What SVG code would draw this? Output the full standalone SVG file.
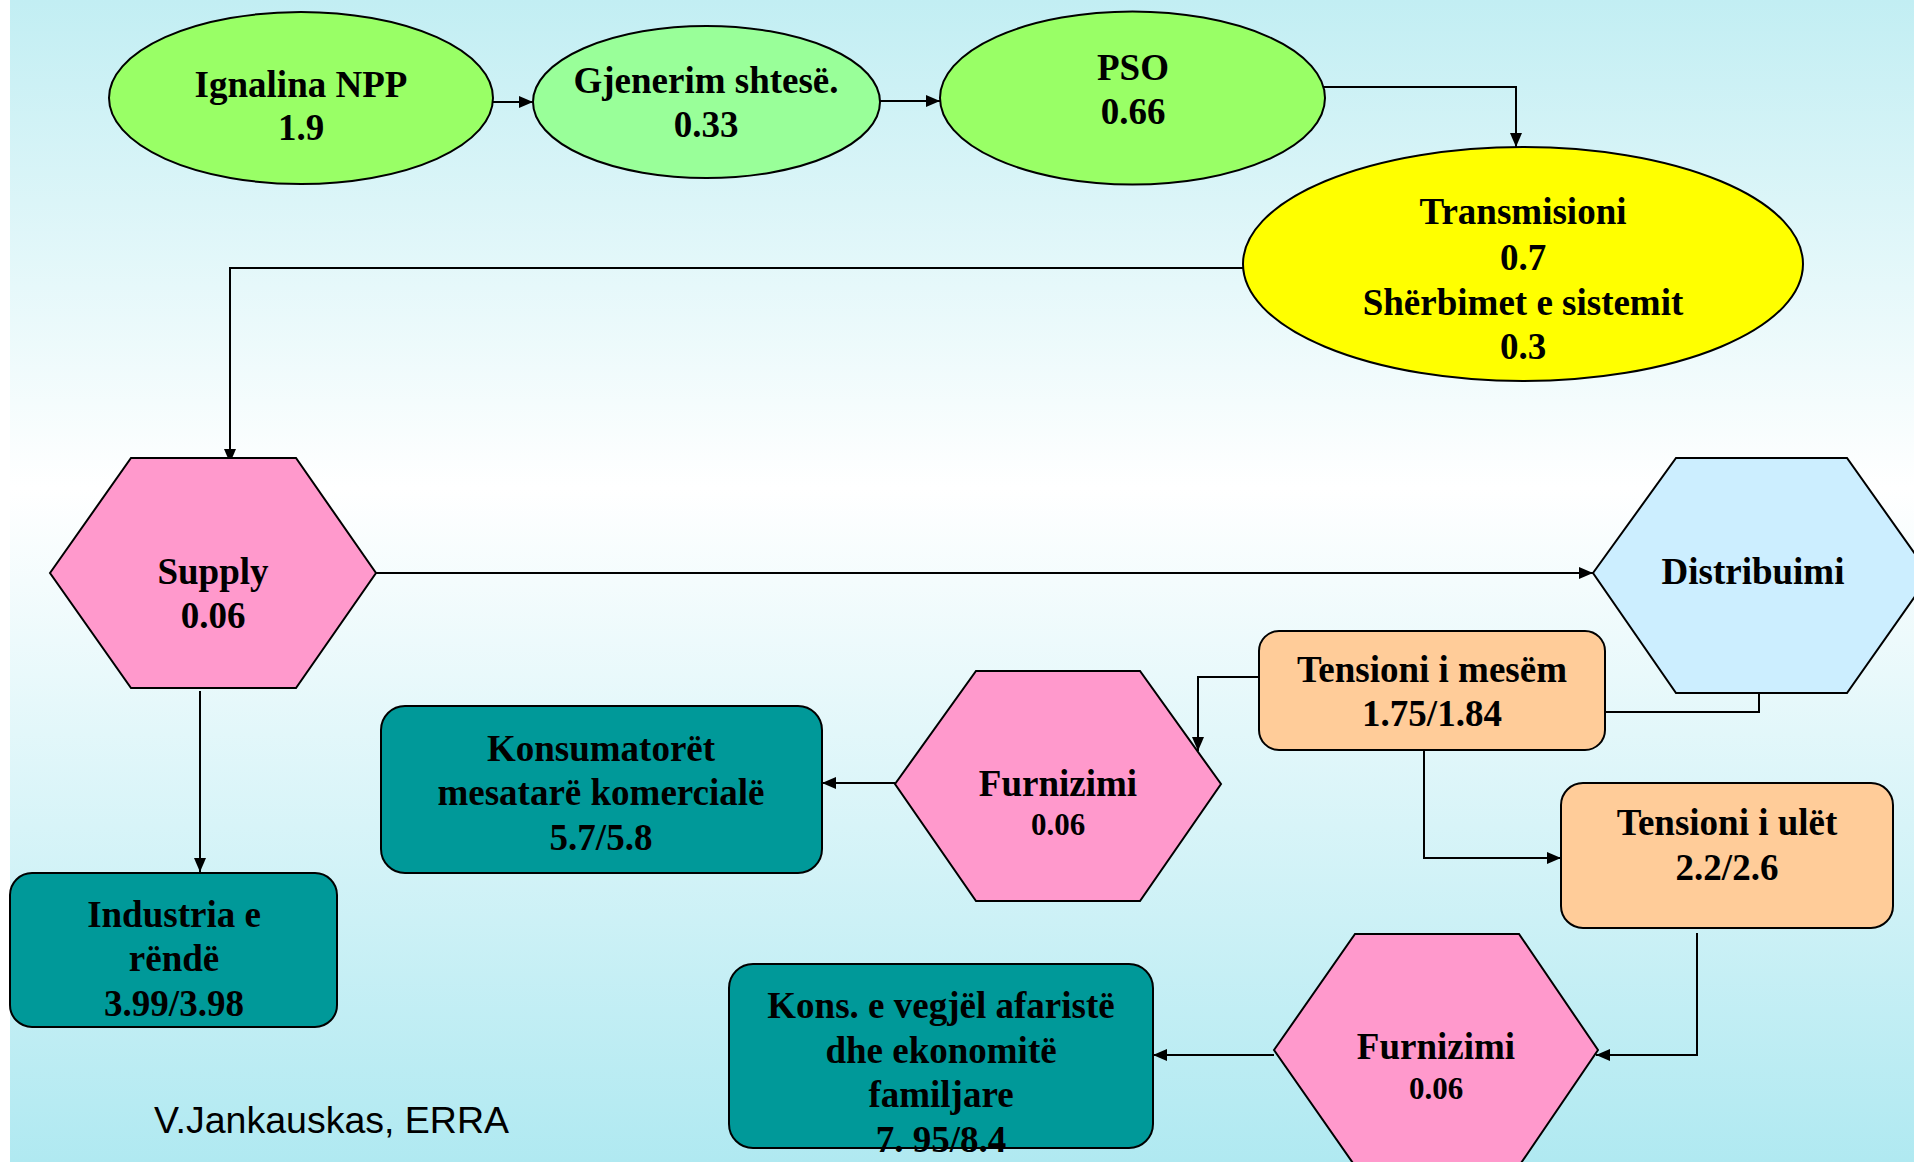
<svg xmlns="http://www.w3.org/2000/svg" width="1914" height="1162" viewBox="0 0 1914 1162">
<defs>
<linearGradient id="bg" x1="0" y1="0" x2="0" y2="1">
<stop offset="0" stop-color="#c2eef3"/>
<stop offset="0.42" stop-color="#ffffff"/>
<stop offset="1" stop-color="#b0e9f1"/>
</linearGradient>
<marker id="arr" viewBox="0 0 14 12" refX="14" refY="6" markerWidth="14" markerHeight="12" markerUnits="userSpaceOnUse" orient="auto">
<path d="M0,0 L14,6 L0,12 Z" fill="#000"/>
</marker>
<style>
.n{stroke:#000;stroke-width:2}
.t{font-family:"Liberation Serif","Times New Roman",serif;font-weight:bold;font-size:37px;fill:#000;text-anchor:middle}
.s{font-size:31px}
.c{fill:none;stroke:#000;stroke-width:2}
.ca{fill:none;stroke:#000;stroke-width:2;marker-end:url(#arr)}
</style>
</defs>
<rect x="0" y="0" width="1914" height="1162" fill="url(#bg)"/>
<rect x="0" y="0" width="10" height="1162" fill="#ffffff"/>

<g id="connectors">
<path class="ca" d="M487,102 H533"/>
<path class="ca" d="M880,101 H940"/>
<path class="ca" d="M1319,87 H1516 V147"/>
<path class="ca" d="M1243,268 H230 V463"/>
<path class="ca" d="M376,573 H1593"/>
<path class="ca" d="M200,691 V872"/>
<path class="c" d="M1759,693 V712 H1605"/>
<path class="ca" d="M1259,677 H1198 V751"/>
<path class="ca" d="M1424,751 V858 H1561"/>
<path class="ca" d="M1697,933 V1055 H1596"/>
<path class="ca" d="M895,783 H822"/>
<path class="ca" d="M1274,1055 H1153"/>
</g>

<g id="ignalina">
<ellipse class="n" cx="301" cy="98" rx="192" ry="86" fill="#99ff66"/>
<text class="t" x="301" y="97">Ignalina NPP</text>
<text class="t" x="301" y="140">1.9</text>
</g>
<g id="gjenerim">
<ellipse class="n" cx="706.5" cy="102" rx="173.5" ry="76" fill="#99ff99"/>
<text class="t" x="706" y="93">Gjenerim shtesë.</text>
<text class="t" x="706" y="137">0.33</text>
</g>
<g id="pso">
<ellipse class="n" cx="1132.5" cy="98" rx="192.5" ry="86.5" fill="#99ff66"/>
<text class="t" x="1133" y="80">PSO</text>
<text class="t" x="1133" y="124">0.66</text>
</g>
<g id="transmisioni">
<ellipse class="n" cx="1523" cy="264" rx="280" ry="117" fill="#ffff00"/>
<text class="t" x="1523" y="224">Transmisioni</text>
<text class="t" x="1523" y="270">0.7</text>
<text class="t" x="1523" y="315">Shërbimet e sistemit</text>
<text class="t" x="1523" y="359">0.3</text>
</g>
<g id="supply">
<polygon class="n" points="50,573 131,458 296,458 376,573 296,688 131,688" fill="#ff99cc"/>
<text class="t" x="213" y="584">Supply</text>
<text class="t" x="213" y="628">0.06</text>
</g>
<g id="distribuimi">
<polygon class="n" points="1593,573 1676,458 1847,458 1930,575 1847,693 1676,693" fill="#cceeff"/>
<text class="t" x="1753" y="584">Distribuimi</text>
</g>
<g id="tensioni-mesem">
<rect class="n" x="1259" y="631" width="346" height="119" rx="20" fill="#ffcc99"/>
<text class="t" x="1432" y="682">Tensioni i mesëm</text>
<text class="t" x="1432" y="726">1.75/1.84</text>
</g>
<g id="furnizimi-1">
<polygon class="n" points="895,784 976,671 1140,671 1221,784 1140,901 976,901" fill="#ff99cc"/>
<text class="t" x="1058" y="796">Furnizimi</text>
<text class="t s" x="1058" y="835">0.06</text>
</g>
<g id="konsumatoret">
<rect class="n" x="381" y="706" width="441" height="167" rx="24" fill="#009999"/>
<text class="t" x="601" y="761">Konsumatorët</text>
<text class="t" x="601" y="805">mesatarë komercialë</text>
<text class="t" x="601" y="850">5.7/5.8</text>
</g>
<g id="tensioni-ulet">
<rect class="n" x="1561" y="783" width="332" height="145" rx="22" fill="#ffcc99"/>
<text class="t" x="1727" y="835">Tensioni i ulët</text>
<text class="t" x="1727" y="880">2.2/2.6</text>
</g>
<g id="industria">
<rect class="n" x="10" y="873" width="327" height="154" rx="22" fill="#009999"/>
<text class="t" x="174" y="927">Industria e</text>
<text class="t" x="174" y="971">rëndë</text>
<text class="t" x="174" y="1016">3.99/3.98</text>
</g>
<g id="furnizimi-2">
<polygon class="n" points="1274,1050 1355,934 1519,934 1598,1050 1519,1166 1355,1166" fill="#ff99cc"/>
<text class="t" x="1436" y="1059">Furnizimi</text>
<text class="t s" x="1436" y="1099">0.06</text>
</g>
<g id="kons-vegjel">
<rect class="n" x="729" y="964" width="424" height="184" rx="24" fill="#009999"/>
<text class="t" x="941" y="1018">Kons. e vegjël afaristë</text>
<text class="t" x="941" y="1063">dhe ekonomitë</text>
<text class="t" x="941" y="1107">familjare</text>
<text class="t" x="941" y="1152">7. 95/8.4</text>
</g>
<g id="credit">
<text x="154" y="1133" font-family="'Liberation Sans', Arial, sans-serif" font-size="37.5" fill="#000">V.Jankauskas, ERRA</text>
</g>
</svg>
